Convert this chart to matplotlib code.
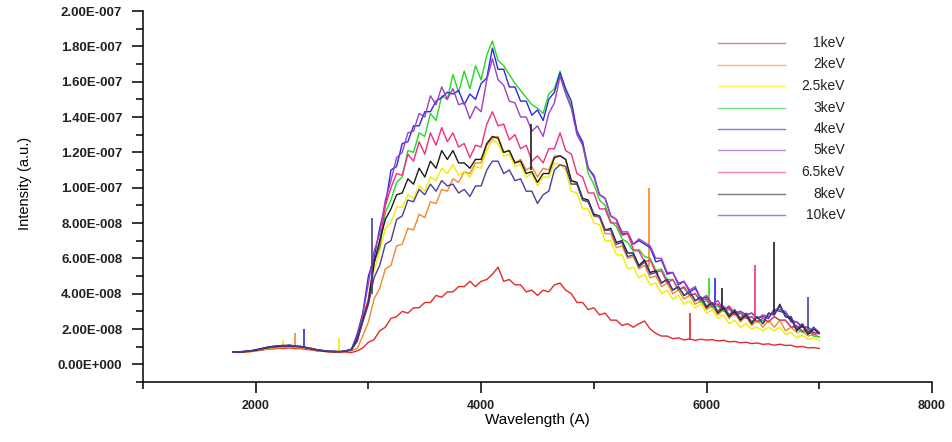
import numpy as np
import matplotlib
matplotlib.use("Agg")
import matplotlib.pyplot as plt
from matplotlib.ticker import MultipleLocator, FuncFormatter

# Cathodoluminescence spectra for different beam energies.
# Intensities are listed in units of 1e-8 (a.u.), sampled every 50 A.
UNIT = 1e-8
wavelength = np.arange(1800, 7001, 50)

labels = ["1keV", "2keV", "2.5keV", "3keV", "4keV", "5keV", "6.5keV", "8keV", "10keV"]
colors = ["#e42a2a", "#f0892a", "#f0ec00", "#22d922", "#2a2ae0",
          "#a03ec4", "#f0307c", "#1c1c1c", "#4a3f96"]

i_1kev = [
    0.68, 0.67, 0.71, 0.71, 0.77, 0.79, 0.86, 0.87, 0.91, 0.90,
    0.93, 0.89, 0.89, 0.84, 0.81, 0.75, 0.74, 0.69, 0.70, 0.67,
    0.69, 0.67, 0.76, 0.93, 1.25, 1.40, 1.90, 2.10, 2.60, 2.70,
    3.00, 2.90, 3.20, 3.20, 3.50, 3.50, 3.90, 3.80, 4.10, 4.10,
    4.40, 4.40, 4.70, 4.40, 4.70, 4.80, 5.10, 5.50, 4.70, 4.80,
    4.50, 4.50, 4.10, 4.20, 3.90, 4.20, 4.10, 4.50, 4.60, 4.20,
    4.00, 3.50, 3.50, 3.10, 3.20, 2.80, 2.90, 2.50, 2.50, 2.20,
    2.30, 2.10, 2.30, 2.45, 2.00, 1.75, 1.60, 1.60, 1.45, 1.50,
    1.38, 1.44, 1.36, 1.42, 1.37, 1.40, 1.32, 1.36, 1.27, 1.30,
    1.22, 1.25, 1.17, 1.21, 1.13, 1.16, 1.08, 1.14, 1.07, 1.08,
    0.98, 1.01, 0.93, 0.95, 0.90,
]
i_2kev = [
    0.70, 0.71, 0.70, 0.74, 0.76, 0.83, 0.86, 0.92, 0.93, 0.96,
    0.95, 0.95, 0.91, 0.89, 0.83, 0.80, 0.74, 0.73, 0.70, 0.72,
    0.71, 0.77, 0.90, 1.60, 2.40, 3.70, 4.30, 5.40, 5.60, 6.70,
    6.8, 7.7, 7.6, 8.5, 8.3, 9.2, 9.1, 9.9, 9.8, 10.5,
    10.3, 10.9, 10.8, 11.4, 11.4, 12.4, 12.8, 12.9, 12.0, 12.1,
    11.4, 11.6, 11.0, 11.2, 10.6, 11.1, 11.0, 11.8, 11.8, 11.6,
    10.4, 10.2, 9.3, 9.2, 8.4, 8.3, 7.4, 7.4, 6.6, 6.7,
    6.0, 6.1, 5.4, 5.6, 4.9, 5.0, 4.4, 4.6, 4.0, 4.2,
    3.7, 3.9, 3.4, 3.6, 3.1, 3.3, 2.8, 3.1, 2.6, 2.9,
    2.4, 2.7, 2.2, 2.5, 2.1, 2.5, 2.1, 2.5, 1.9, 2.1,
    1.8, 1.9, 1.6, 1.7, 1.55,
]
i_2p5kev = [
    0.70, 0.68, 0.72, 0.72, 0.79, 0.83, 0.91, 0.95, 1.01, 1.01,
    1.04, 0.99, 0.98, 0.91, 0.87, 0.79, 0.76, 0.71, 0.72, 0.70,
    0.75, 0.81, 1.30, 2.40, 3.40, 5.30, 6.40, 7.70, 8.00, 8.90,
    8.9, 9.6, 9.4, 10.1, 9.8, 10.6, 10.4, 11.1, 10.8, 11.3,
    10.7, 10.9, 10.6, 11.2, 11.1, 12.1, 12.7, 12.5, 11.8, 11.9,
    11.2, 11.3, 10.6, 10.8, 10.1, 10.6, 10.6, 11.4, 11.3, 11.0,
    9.8, 9.7, 8.8, 8.8, 8.0, 7.9, 7.0, 7.0, 6.2, 6.2,
    5.4, 5.5, 4.9, 5.1, 4.5, 4.6, 4.0, 4.2, 3.7, 3.9,
    3.4, 3.6, 3.2, 3.4, 2.9, 3.1, 2.6, 2.8, 2.3, 2.5,
    2.1, 2.3, 2.0, 2.1, 1.9, 2.1, 1.9, 2.1, 1.7, 1.8,
    1.5, 1.65, 1.4, 1.5, 1.35,
]
i_3kev = [
    0.70, 0.68, 0.73, 0.74, 0.80, 0.85, 0.94, 0.96, 1.02, 1.01,
    1.06, 1.01, 1.00, 0.93, 0.88, 0.80, 0.77, 0.72, 0.73, 0.71,
    0.76, 0.83, 1.40, 2.50, 3.70, 5.80, 6.60, 8.60, 9.30, 10.3,
    10.6, 12.1, 12.0, 13.1, 12.9, 14.2, 13.8, 15.2, 15.0, 16.4,
    15.4, 16.6, 15.6, 16.9, 16.1, 17.5, 18.3, 17.2, 16.9, 16.4,
    15.9, 15.5, 15.1, 14.7, 14.5, 14.2, 15.3, 15.6, 16.6, 15.5,
    14.6, 13.2, 12.5, 10.8, 10.2, 9.3, 9.0, 8.1, 7.8, 7.1,
    6.9, 6.4, 6.5, 6.1, 6.0, 5.3, 5.4, 4.8, 4.8, 4.3,
    4.3, 3.9, 4.0, 3.5, 3.6, 3.2, 3.3, 3.0, 3.1, 2.8,
    2.9, 2.6, 2.7, 2.4, 2.5, 2.4, 2.7, 2.5, 2.5, 2.1,
    2.1, 1.8, 1.9, 1.6, 1.55,
]
i_4kev = [
    0.71, 0.70, 0.74, 0.75, 0.83, 0.87, 0.96, 0.99, 1.05, 1.04,
    1.09, 1.03, 1.02, 0.94, 0.90, 0.81, 0.78, 0.73, 0.74, 0.71,
    0.77, 0.86, 1.70, 2.90, 5.00, 6.00, 7.70, 9.00, 11.0, 11.2,
    12.5, 12.6, 13.5, 13.5, 14.3, 14.3, 14.9, 15.1, 15.4, 15.3,
    15.5, 14.7, 15.3, 15.0, 15.9, 16.2, 17.9, 16.7, 16.7, 15.7,
    15.7, 14.9, 14.9, 14.1, 14.4, 13.8, 15.0, 15.4, 16.5, 15.6,
    14.9, 13.2, 12.6, 11.1, 10.7, 9.6, 9.4, 8.4, 8.2, 7.4,
    7.4, 6.8, 7.0, 6.8, 6.6, 5.8, 5.9, 5.1, 5.2, 4.5,
    4.7, 4.1, 4.3, 3.7, 3.8, 3.4, 3.4, 3.1, 3.2, 2.9,
    3.0, 2.8, 2.9, 2.6, 2.7, 2.6, 3.1, 3.0, 2.9, 2.4,
    2.4, 2.1, 2.1, 1.8, 1.75,
]
i_5kev = [
    0.69, 0.71, 0.71, 0.77, 0.80, 0.90, 0.95, 1.03, 1.04, 1.08,
    1.05, 1.04, 0.99, 0.96, 0.87, 0.83, 0.75, 0.74, 0.71, 0.72,
    0.74, 0.86, 1.50, 2.80, 4.60, 6.40, 7.40, 9.30, 10.4, 11.7,
    12.0, 13.1, 13.2, 14.2, 14.0, 15.2, 14.7, 15.7, 15.0, 15.6,
    14.7, 14.8, 13.9, 14.6, 14.3, 16.1, 17.3, 16.1, 15.8, 14.9,
    14.8, 14.0, 14.0, 13.2, 13.5, 12.9, 14.2, 14.8, 16.3, 15.3,
    14.5, 13.0, 12.4, 11.1, 10.6, 9.6, 9.4, 8.4, 8.2, 7.5,
    7.5, 6.8, 7.1, 6.9, 6.7, 6.0, 6.0, 5.2, 5.2, 4.6,
    4.7, 4.2, 4.4, 3.7, 3.9, 3.4, 3.6, 3.1, 3.3, 2.9,
    3.0, 2.8, 2.9, 2.6, 2.8, 2.7, 3.1, 3.1, 3.0, 2.5,
    2.4, 2.1, 2.1, 1.8, 1.8,
]
i_6p5kev = [
    0.70, 0.69, 0.72, 0.73, 0.80, 0.84, 0.93, 0.97, 1.02, 1.02,
    1.05, 1.00, 0.99, 0.92, 0.88, 0.79, 0.76, 0.71, 0.72, 0.70,
    0.75, 0.82, 1.40, 2.60, 3.70, 5.80, 6.80, 9.00, 10.0, 10.8,
    10.7, 11.9, 11.5, 12.6, 11.9, 13.1, 12.4, 13.4, 12.6, 13.1,
    12.3, 12.5, 11.7, 12.4, 12.3, 13.6, 14.3, 13.5, 13.6, 12.7,
    13.0, 12.2, 12.4, 11.5, 11.8, 11.4, 12.2, 12.2, 13.1, 12.1,
    11.9, 10.8, 10.6, 9.7, 9.7, 8.8, 8.8, 8.0, 8.0, 7.3,
    7.4, 6.5, 6.4, 5.8, 5.9, 5.2, 5.3, 4.6, 4.8, 4.2,
    4.4, 3.9, 4.0, 3.6, 3.7, 3.3, 3.4, 3.1, 3.2, 2.8,
    2.9, 2.6, 2.7, 2.4, 2.6, 2.4, 2.7, 2.5, 2.5, 2.1,
    2.2, 1.9, 2.0, 1.7, 1.75,
]
i_8kev = [
    0.70, 0.71, 0.71, 0.76, 0.79, 0.88, 0.93, 1.00, 1.01, 1.05,
    1.04, 1.03, 0.98, 0.95, 0.86, 0.82, 0.75, 0.74, 0.71, 0.73,
    0.74, 0.85, 1.40, 2.50, 3.50, 5.70, 7.00, 8.20, 8.80, 9.60,
    9.7, 10.5, 10.2, 11.1, 10.6, 11.5, 11.1, 12.1, 11.6, 12.1,
    11.4, 11.4, 11.1, 11.6, 11.6, 12.5, 12.9, 12.8, 12.0, 12.1,
    11.4, 11.5, 10.8, 10.9, 10.3, 10.8, 10.8, 11.7, 11.8, 11.6,
    10.4, 10.3, 9.4, 9.3, 8.5, 8.4, 7.6, 7.7, 6.9, 7.0,
    6.3, 6.3, 5.6, 5.9, 5.2, 5.3, 4.6, 4.8, 4.2, 4.4,
    3.9, 4.1, 3.6, 3.8, 3.2, 3.5, 2.9, 3.2, 2.7, 3.0,
    2.5, 2.8, 2.3, 2.7, 2.3, 2.9, 2.8, 3.4, 2.7, 2.6,
    1.9, 2.2, 1.7, 2.0, 1.75,
]
i_10kev = [
    0.71, 0.70, 0.74, 0.75, 0.83, 0.88, 0.97, 1.00, 1.06, 1.06,
    1.08, 1.03, 1.01, 0.94, 0.89, 0.81, 0.78, 0.73, 0.74, 0.71,
    0.76, 0.83, 1.30, 2.40, 3.40, 4.90, 5.60, 6.80, 7.00, 8.20,
    8.4, 9.3, 9.2, 9.9, 9.6, 10.2, 9.8, 10.4, 10.1, 10.2,
    9.7, 9.9, 9.5, 10.1, 10.1, 11.0, 11.5, 11.5, 10.8, 11.0,
    10.4, 10.5, 9.8, 9.8, 9.1, 9.6, 9.8, 11.0, 11.3, 11.2,
    10.2, 10.2, 9.3, 9.2, 8.4, 8.4, 7.6, 7.6, 6.8, 6.9,
    6.1, 6.2, 5.5, 5.8, 5.1, 5.2, 4.6, 4.8, 4.2, 4.4,
    3.9, 4.1, 3.6, 3.8, 3.3, 3.5, 3.0, 3.3, 2.8, 3.1,
    2.6, 2.9, 2.4, 2.7, 2.3, 2.9, 2.8, 3.3, 2.7, 2.7,
    2.0, 2.3, 1.8, 2.1, 1.8,
]

# Narrow emission spikes: (wavelength, base, top), units of 1e-8
spikes = {
    "1keV": [(5850, 1.4, 2.9)],
    "2keV": [(2350, 0.95, 1.75), (5490, 5.5, 10.0)],
    "2.5keV": [(2240, 1.0, 1.36), (2740, 0.72, 1.5)],
    "3keV": [(6020, 3.4, 4.9)],
    "4keV": [(2430, 1.0, 2.0), (6075, 3.4, 4.9)],
    "5keV": [],
    "6.5keV": [(6430, 2.6, 5.6)],
    "8keV": [(4440, 11.0, 13.6), (6140, 3.2, 4.3), (6600, 2.8, 6.9)],
    "10keV": [(3030, 4.0, 8.3), (6900, 2.0, 3.8)],
}

series = [i_1kev, i_2kev, i_2p5kev, i_3kev, i_4kev, i_5kev, i_6p5kev, i_8kev, i_10kev]

plt.rcParams["font.family"] = ["Liberation Sans", "DejaVu Sans"]

fig = plt.figure(figsize=(9.53, 4.42), dpi=100)
W, H = 953, 442
ax = fig.add_axes([143 / W, 1 - 382 / H, 789 / W, 371 / H])

for lab, col, vals in zip(labels, colors, series):
    ax.plot(wavelength, np.asarray(vals) * UNIT, color=col, lw=1.0)
    for wl, lo, hi in spikes[lab]:
        ax.vlines(wl, lo * UNIT, hi * UNIT, color=col, lw=1.2)

ax.set_xlim(1000, 8000)
ax.set_ylim(-1e-8, 2e-7)

ax.spines["top"].set_visible(False)
ax.spines["right"].set_visible(False)
for s in ("left", "bottom"):
    ax.spines[s].set_linewidth(1.1)

ax.xaxis.set_major_locator(MultipleLocator(2000))
ax.xaxis.set_minor_locator(MultipleLocator(1000))
ax.yaxis.set_major_locator(MultipleLocator(2e-8))
ax.yaxis.set_minor_locator(MultipleLocator(1e-8))


def sci_fmt(v, _pos):
    s = f"{v:.2E}"
    mant, exp = s.split("E")
    sign = exp[0]
    return f"{mant}E{sign}{int(exp[1:]):03d}"


ax.yaxis.set_major_formatter(FuncFormatter(sci_fmt))
ax.tick_params(axis="both", which="major", direction="out", length=8, width=1.1)
ax.tick_params(axis="both", which="minor", direction="out", length=5, width=1.1)
ax.tick_params(axis="y", which="major", pad=7, labelsize=9.5)
ax.tick_params(axis="x", which="major", pad=5, labelsize=9)
for t in ax.get_yticklabels() + ax.get_xticklabels():
    t.set_fontweight("bold")
    t.set_color("#222222")

ax.set_xlabel("Wavelength (A)", fontsize=11)
ax.xaxis.set_label_coords(0.5, -0.083)
ax.set_ylabel("Intensity (a.u.)", fontsize=10.5)
ax.yaxis.set_label_coords(-0.141, 0.535)

# Legend: short line sample followed by a right-aligned label
x0, x1, xt = (718 - 143) / 789, (785 - 143) / 789, (845 - 143) / 789
for k, (lab, col) in enumerate(zip(labels, colors)):
    yk = (382 - 43 - 21.5 * k) / 371
    ax.plot([x0, x1], [yk, yk], color=col, lw=1.0, alpha=0.6,
            transform=ax.transAxes, clip_on=False)
    ax.text(xt, yk, lab, transform=ax.transAxes, ha="right", va="center",
            fontsize=10, color="#222222")

fig.savefig("out.png", dpi=100)
